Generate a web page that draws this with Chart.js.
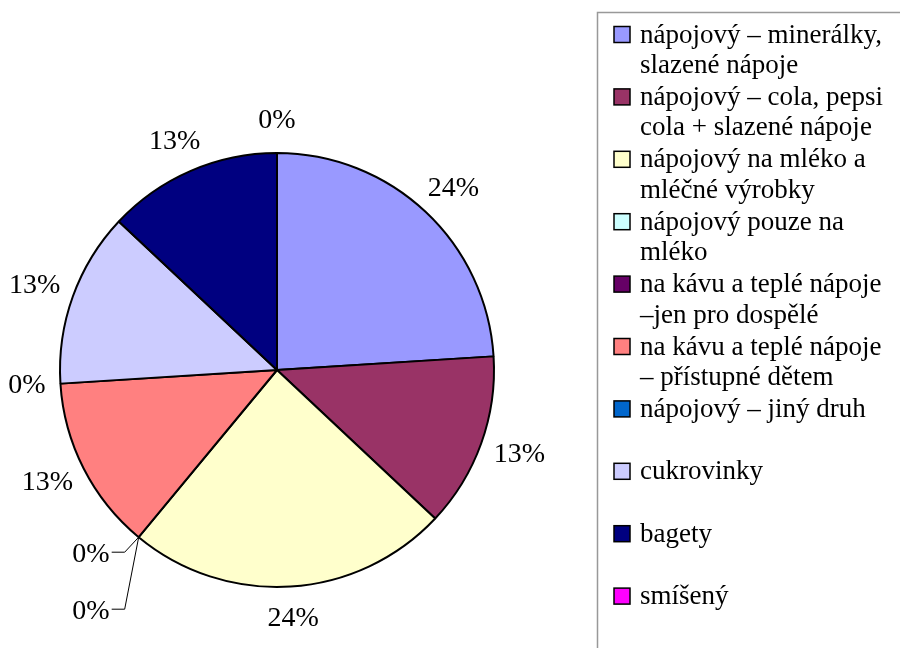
<!DOCTYPE html>
<html>
<head>
<meta charset="utf-8">
<script src="https://cdn.jsdelivr.net/npm/chart.js@4"></script>
<style>
  html, body { margin: 0; padding: 0; background: #fff; }
  #wrap { position: relative; width: 900px; height: 648px; }
</style>
</head>
<body>
<div id="wrap"><canvas id="c" width="900" height="648"></canvas></div>
<script>
// Categories (multi-line legend text) and their shares in percent
const categories = [
  ['nápojový – minerálky,', 'slazené nápoje'],
  ['nápojový – cola, pepsi', 'cola + slazené nápoje'],
  ['nápojový na mléko a', 'mléčné výrobky'],
  ['nápojový pouze na', 'mléko'],
  ['na kávu a teplé nápoje', '–jen pro dospělé'],
  ['na kávu a teplé nápoje', '– přístupné dětem'],
  ['nápojový – jiný druh'],
  ['cukrovinky'],
  ['bagety'],
  ['smíšený']
];
const shares = [24, 13, 24, 0, 0, 13, 0, 13, 13, 0];
const sliceColors = ['#9999FF', '#993366', '#FFFFCC', '#CCFFFF', '#660066',
                     '#FF8080', '#0066CC', '#CCCCFF', '#000080', '#FF00FF'];

const FONT = '"Liberation Serif", serif';

// Percentage labels placed just outside each slice; coincident zero
// slices are stacked below their common edge with leader lines.
const pctLabels = {
  id: 'pctLabels',
  afterDatasetsDraw(chart) {
    const ctx = chart.ctx;
    const meta = chart.getDatasetMeta(0);
    const data = chart.data.datasets[0].data;
    const total = data.reduce((a, b) => a + b, 0);
    const groups = {};
    meta.data.forEach((arc, i) => {
      const p = arc.getProps(['startAngle', 'endAngle'], true);
      const key = ((p.startAngle + p.endAngle) / 2).toFixed(4);
      if (data[i] === 0) groups[key] = (groups[key] || 0) + 1;
    });
    const used = {};
    ctx.save();
    ctx.font = '28px ' + FONT;
    ctx.fillStyle = '#000';
    ctx.textBaseline = 'middle';
    meta.data.forEach((arc, i) => {
      const p = arc.getProps(['x', 'y', 'startAngle', 'endAngle', 'outerRadius'], true);
      const mid = (p.startAngle + p.endAngle) / 2;
      const key = mid.toFixed(4);
      const text = Math.round(data[i] / total * 100) + '%';
      const w = ctx.measureText(text).width;
      const dx = Math.cos(mid), dy = Math.sin(mid);
      const ax = p.x + p.outerRadius * dx, ay = p.y + p.outerRadius * dy;
      if (data[i] === 0 && groups[key] > 1) {
        const k = used[key] || 0;
        used[key] = k + 1;
        const ey = ay + 15 + 57 * k;
        ctx.beginPath();
        ctx.strokeStyle = '#000';
        ctx.lineWidth = 1;
        ctx.moveTo(ax, ay);
        ctx.lineTo(ax - 14, ey);
        ctx.lineTo(ax - 27, ey);
        ctx.stroke();
        ctx.textAlign = 'right';
        ctx.fillText(text, ax - 29, ey + 2);
      } else {
        const gap = 18;
        const lx = p.x + (p.outerRadius + gap) * dx + dx * (w / 2 - 3);
        const ly = p.y + (p.outerRadius + gap) * dy + dy * 14;
        ctx.textAlign = 'center';
        ctx.fillText(text, lx, ly);
      }
    });
    ctx.restore();
  }
};

// Boxed legend on the right, square swatch + wrapped text per category
const boxLegend = {
  id: 'boxLegend',
  afterDraw(chart) {
    const ctx = chart.ctx;
    const colors = chart.data.datasets[0].backgroundColor;
    ctx.save();
    ctx.strokeStyle = '#999';
    ctx.lineWidth = 1.5;
    ctx.beginPath();
    ctx.moveTo(905, 12.5);
    ctx.lineTo(597.5, 12.5);
    ctx.lineTo(597.5, 655);
    ctx.stroke();
    ctx.font = '27px ' + FONT;
    ctx.textAlign = 'left';
    ctx.textBaseline = 'middle';
    chart.data.labels.forEach((lines, i) => {
      const cy = 34.5 + 62.4 * i;
      ctx.fillStyle = colors[i];
      ctx.fillRect(614, cy - 8, 16, 16);
      ctx.strokeStyle = '#000';
      ctx.lineWidth = 1.5;
      ctx.strokeRect(614, cy - 8, 16, 16);
      ctx.fillStyle = '#000';
      lines.forEach((ln, j) => ctx.fillText(ln, 640, cy + 1 + j * 30.5));
    });
    ctx.restore();
  }
};

function build() {
  new Chart(document.getElementById('c'), {
    type: 'pie',
    data: {
      labels: categories,
      datasets: [{
        data: shares,
        backgroundColor: sliceColors,
        borderColor: '#000',
        borderWidth: 2
      }]
    },
    options: {
      responsive: false,
      animation: false,
      layout: { padding: { left: 59, top: 152, right: 405, bottom: 60 } },
      plugins: {
        legend: { display: false },
        tooltip: { enabled: false }
      }
    },
    plugins: [pctLabels, boxLegend]
  });
}

// Make sure the serif face is ready before the single static draw
document.fonts.load('27px "Liberation Serif"').then(build, build);
</script>
</body>
</html>
